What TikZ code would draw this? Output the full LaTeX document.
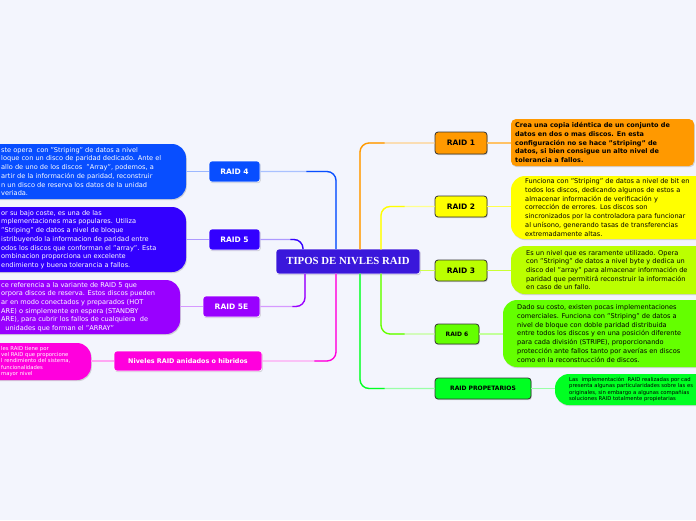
\documentclass[tikz,border=0pt]{standalone}
\usepackage{fontspec}
\setmainfont{DejaVu Sans}
\newfontfamily\titlefont{Liberation Serif}
\usetikzlibrary{shadows}
\definecolor{bgc}{RGB}{243,245,253}
\definecolor{cc}{RGB}{58,23,219}
\definecolor{c4}{RGB}{8,78,255}
\definecolor{c5}{RGB}{51,0,255}
\definecolor{c5e}{RGB}{153,0,255}
\definecolor{cn}{RGB}{255,0,221}
\definecolor{c1}{RGB}{255,153,0}
\definecolor{c2}{RGB}{255,255,0}
\definecolor{c3}{RGB}{187,255,0}
\definecolor{c6}{RGB}{100,255,0}
\definecolor{cp}{RGB}{0,255,34}
\tikzset{
  shd/.style={drop shadow={shadow xshift=0.8pt,shadow yshift=-1.2pt,opacity=0.3}},
  lbox/.style={shd,rounded corners=3pt,draw=white,line width=0.6pt,text=white,
     font=\fontsize{7.5}{9}\selectfont\bfseries,inner sep=0pt},
  rbox/.style={shd,rounded corners=3pt,draw=black!80,line width=0.8pt,text=black,
     font=\fontsize{7.5}{9}\selectfont\bfseries,inner sep=0pt},
  descbox/.style={rounded corners=14pt,inner sep=0pt,shd},
  desctext/.style={inner sep=0pt,anchor=west,align=left,font=\fontsize{6.6}{8.7}\selectfont},
  tinytext/.style={inner sep=0pt,anchor=west,align=left,font=\fontsize{5.3}{6.4}\selectfont},
  conn/.style={line width=1.3pt,rounded corners=9pt},
}
\begin{document}
\begin{tikzpicture}[x=1pt,y=-1pt]
\fill[bgc] (0,0) rectangle (696,520);
\useasboundingbox (0,0) rectangle (696,520);

% description boxes
\node[descbox,fill=c4,minimum width=206pt,minimum height=55pt] (d4) at (83,171.5) {};
\node[descbox,fill=c5,minimum width=206pt,minimum height=65pt] (d5) at (83,239.5) {};
\node[descbox,fill=c5e,minimum width=200pt,minimum height=54pt] (d5e) at (80,307) {};
\node[descbox,fill=cn,minimum width=111pt,minimum height=37pt] (dn) at (35.5,361.5) {};
\node[descbox,rounded corners=5pt,fill=c1,minimum width=183pt,minimum height=47pt] (d1) at (602.5,142.5) {};
\node[descbox,fill=c2,minimum width=205pt,minimum height=63pt] (d2) at (613.5,207.5) {};
\node[descbox,fill=c3,minimum width=205pt,minimum height=48pt] (d3) at (613.5,270) {};
\node[descbox,fill=c6,minimum width=213pt,minimum height=67pt] (d6) at (609.5,333.5) {};
\node[descbox,fill=cp,minimum width=161pt,minimum height=31pt] (dp) at (635.5,389.5) {};

% description texts
\node[desctext,text=white] (t4) at (1,171.5) {ste opera\ \ con "Striping" de datos a nivel\\loque con un disco de paridad dedicado. Ante el\\allo de uno de los discos\ \ "Array", podemos, a\\artir de la información de paridad, reconstruir\\n un disco de reserva los datos de la unidad\\veriada.};
\node[desctext,text=white] (t5) at (1,239.5) {or su bajo coste, es una de las\\mplementaciones mas populares. Utiliza\\"Striping" de datos a nivel de bloque\\istribuyendo la informacion de paridad entre\\odos los discos que conforman el "array". Esta\\ombinacion proporciona un excelente\\endimiento y buena tolerancia a fallos.};
\node[desctext,text=white] (t5e) at (1,307) {ce referencia a la variante de RAID 5 que\\orpora discos de reserva. Estos discos pueden\\ar en modo conectados y preparados (HOT\\ARE) o simplemente en espera (STANDBY\\ARE), para cubrir los fallos de cualquiera\ \ de\\\ \ unidades que forman el "ARRAY"};
\node[tinytext,text=white] (tn) at (1,361.5) {les RAID tiene por\\vel RAID que proporcione\\l rendimiento del sistema,\\funcionalidades\\mayor nivel};
\node[desctext,font=\fontsize{6.5}{8.7}\selectfont\bfseries] (t1) at (515,142.5) {Crea una copia idéntica de un conjunto de\\datos en dos o mas discos. En esta\\configuración no se hace "striping" de\\datos, si bien consigue un alto nivel de\\tolerancia a fallos.};
\node[desctext] (t2) at (525,207.5) {Funciona con "Striping" de datos a nivel de bit en\\todos los discos, dedicando algunos de estos a\\almacenar información de verificación y\\corrección de errores. Los discos son\\sincronizados por la controladora para funcionar\\al unísono, generando tasas de transferencias\\extremadamente altas.};
\node[desctext] (t3) at (526,270) {Es un nivel que es raramente utilizado. Opera\\con "Striping" de datos a nivel byte y dedica un\\disco del "array" para almacenar información de\\paridad que permitirá reconstruir la información\\en caso de un fallo.};
\node[desctext] (t6) at (517,333.5) {Dado su costo, existen pocas implementaciones\\comerciales. Funciona con "Striping" de datos a\\nivel de bloque con doble paridad distribuida\\entre todos los discos y en una posición diferente\\para cada división (STRIPE), proporcionando\\protección ante fallos tanto por averías en discos\\como en la reconstrucción de discos.};
\node[tinytext] (tp) at (569,389.5) {Las\ \ implementación\ \ RAID realizadas por cad\\presenta algunas particularidades sobre las es\\originales, sin embargo a algunas compañías\\soluciones RAID totalmente propietarias};

% central node
\node[shd,fill=cc,draw=white,line width=0.6pt,rounded corners=3pt,minimum width=144pt,minimum height=25pt,
  text=white,font=\titlefont\fontsize{10.8}{12}\selectfont\bfseries] (c) at (348,261.5) {TIPOS DE NIVLES RAID};

% level nodes
\node[lbox,fill=c4,minimum width=51pt,minimum height=21pt] (r4) at (234.5,171.5) {RAID 4};
\node[lbox,fill=c5,minimum width=51pt,minimum height=21pt] (r5) at (234.5,239.5) {RAID 5};
\node[lbox,fill=c5e,minimum width=57pt,minimum height=21pt] (r5e) at (231.5,306.5) {RAID 5E};
\node[lbox,fill=cn,minimum width=148pt,minimum height=20pt,font=\fontsize{6.4}{8}\selectfont\bfseries] (rn) at (188,361) {Niveles RAID anidados o hibridos};
\node[rbox,fill=c1,minimum width=52pt,minimum height=22pt] (r1) at (461,143) {RAID 1};
\node[rbox,fill=c2,minimum width=52pt,minimum height=21pt] (r2) at (461,206.5) {RAID 2};
\node[rbox,fill=c3,minimum width=52pt,minimum height=21pt] (r3) at (461,270.5) {RAID 3};
\node[rbox,fill=c6,minimum width=44pt,minimum height=20pt,font=\fontsize{6}{8}\selectfont\bfseries] (r6) at (457,334) {RAID 6};
\node[rbox,fill=cp,minimum width=96pt,minimum height=21pt,font=\fontsize{6}{8}\selectfont\bfseries] (rp) at (483,388.5) {RAID PROPETARIOS};

% connectors center -> levels
\coordinate (s4) at (336,249.3);
\coordinate (s5) at (303,249.3);
\coordinate (s5e) at (305,273.7);
\coordinate (sn) at (336,273.7);
\coordinate (s1) at (360,249.3);
\coordinate (s2) at (381,249.3);
\coordinate (s6) at (381,273.7);
\coordinate (sp) at (360,273.7);

\draw[conn,c4!35] (s4) |- (r4.east);
\draw[conn,c4] (s4) |- ([xshift=46pt]r4.east);
\draw[conn,c5!40] (s5) |- (r5.east);
\draw[conn,c5] (s5) |- ([xshift=30pt]r5.east);
\draw[conn,c5e!40] (s5e) |- (r5e.east);
\draw[conn,c5e] (s5e) |- ([xshift=32pt]r5e.east);
\draw[conn,cn!35] (sn) |- (rn.east);
\draw[conn,cn] (sn) |- ([xshift=52pt]rn.east);
\draw[conn,c1!45] (s1) |- (r1.west);
\draw[conn,c1] (s1) |- ([xshift=-50pt]r1.west);
\draw[conn,c2!45] (s2) |- (r2.west);
\draw[conn,c2] (s2) |- ([xshift=-30pt]r2.west);
\draw[conn,c3!70!white] (r3.west -| c.east) -- (r3.west);
\draw[conn,c6!40] (s6) |- (r6.west);
\draw[conn,c6] (s6) |- ([xshift=-30pt]r6.west);
\draw[conn,cp!40] (sp) |- (rp.west);
\draw[conn,cp] (sp) |- ([xshift=-50pt]rp.west);

% level -> description connectors
\draw[conn,c4!40] (r4.west) -- (r4.west -| d4.east);
\draw[conn,c5!40] (r5.west) -- (r5.west -| d5.east);
\draw[conn,c5e!40] (r5e.west) -- (r5e.west -| d5e.east);
\draw[conn,cn!35] (rn.west) -- (rn.west -| dn.east);
\draw[conn,c1!60] (r1.east) -- (r1.east -| d1.west);
\draw[conn,c2!70] (r2.east) -- (r2.east -| d2.west);
\draw[conn,c3!80] (r3.east) -- (r3.east -| d3.west);
\draw[conn,c6!40] (r6.east) -- (r6.east -| d6.west);
\draw[conn,cp!40] (rp.east) -- (rp.east -| dp.west);
\end{tikzpicture}
\end{document}
